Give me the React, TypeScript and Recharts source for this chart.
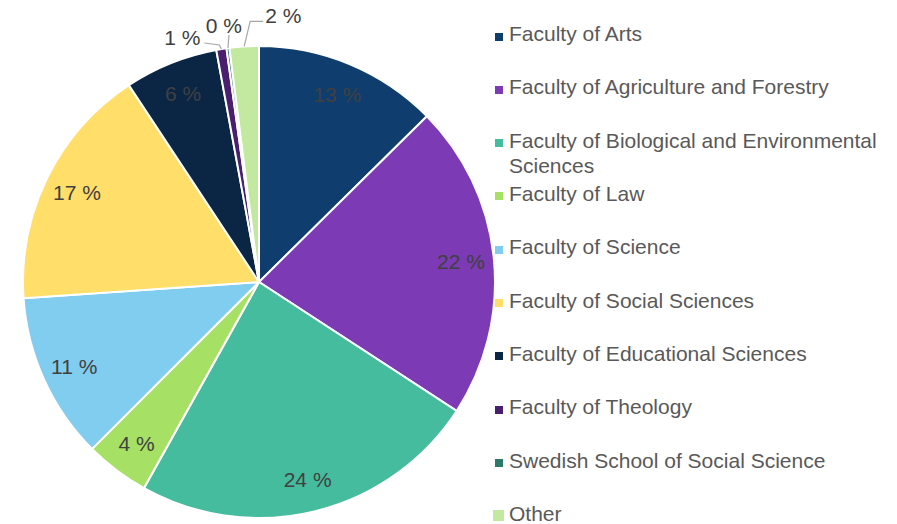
import React from 'react';
import { PieChart, Pie, Cell, Legend } from 'recharts';

const faculties = [
  'Faculty of Arts',
  'Faculty of Agriculture and Forestry',
  'Faculty of Biological and Environmental Sciences',
  'Faculty of Law',
  'Faculty of Science',
  'Faculty of Social Sciences',
  'Faculty of Educational Sciences',
  'Faculty of Theology',
  'Swedish School of Social Science',
  'Other'
];

const shares = [12.6, 21.6, 23.9, 4.4, 11.4, 16.8, 6.4, 0.7, 0.2, 2.0];

const colors = [
  '#0F3E6E',
  '#7C3AB4',
  '#46BC9E',
  '#A6E065',
  '#80CDEF',
  '#FFDE6A',
  '#0B2645',
  '#4B1F6F',
  '#2B7A67',
  '#C3E8A0'
];

const legendLines: string[][] = [
  ['Faculty of Arts'],
  ['Faculty of Agriculture and Forestry'],
  ['Faculty of Biological and Environmental', 'Sciences'],
  ['Faculty of Law'],
  ['Faculty of Science'],
  ['Faculty of Social Sciences'],
  ['Faculty of Educational Sciences'],
  ['Faculty of Theology'],
  ['Swedish School of Social Science'],
  ['Other']
];

const chartData = faculties.map((name, i) => ({ name, value: shares[i] }));

const FONT = '"Liberation Sans", Arial, sans-serif';
const RADIAN = Math.PI / 180;
const LABEL_R = 203;

// leader lines for the tiny slices: elbow / end offsets from the edge point, text pos
const outside: Record<number, any> = {
  7: { elbow: [-2, -4], end: [-17, -6], text: [-21, -4], anchor: 'end' },
  8: { elbow: [1, -13], end: [1, -13], text: [-4, -15], anchor: 'middle' },
  9: { elbow: [6, -25], end: [19, -25], text: [21, -23], anchor: 'start' }
};

function renderLabel(props: any) {
  const { cx, cy, midAngle, outerRadius, index, value } = props;
  const txt = `${Math.round(value)} %`;
  const cos = Math.cos(-midAngle * RADIAN);
  const sin = Math.sin(-midAngle * RADIAN);
  const o = outside[index];
  if (o) {
    const ex = cx + outerRadius * cos;
    const ey = cy + outerRadius * sin;
    return (
      <g key={`l-${index}`}>
        <polyline
          points={`${ex},${ey} ${ex + o.elbow[0]},${ey + o.elbow[1]} ${ex + o.end[0]},${ey + o.end[1]}`}
          fill="none"
          stroke="#A6A6A6"
          strokeWidth={1.2}
        />
        <text
          x={ex + o.text[0]}
          y={ey + o.text[1]}
          textAnchor={o.anchor}
          fill="#404040"
          fontSize={21}
          fontFamily={FONT}
        >
          {txt}
        </text>
      </g>
    );
  }
  const x = cx + LABEL_R * cos;
  const y = cy + LABEL_R * sin;
  return (
    <text
      key={`l-${index}`}
      x={x}
      y={y + 7.5}
      textAnchor="middle"
      fill="#404040"
      fontSize={21}
      fontFamily={FONT}
    >
      {txt}
    </text>
  );
}

function LegendBox() {
  return (
    <div style={{ fontFamily: FONT, fontSize: 21, color: '#595959' }}>
      {legendLines.map((lines, i) => {
        const last = i === legendLines.length - 1;
        const size = last ? 11 : 8;
        return (
          <div key={i} style={{ position: 'relative', height: 53.33 }}>
            <span
              style={{
                position: 'absolute',
                left: last ? 0 : 2,
                top: last ? 9.5 : 11.5,
                width: size,
                height: size,
                background: colors[i]
              }}
            />
            <div style={{ position: 'absolute', left: 16, top: 0, lineHeight: '25px', whiteSpace: 'nowrap' }}>
              {lines.map((l, j) => (
                <div key={j}>{l}</div>
              ))}
            </div>
          </div>
        );
      })}
    </div>
  );
}

export default function App() {
  return (
    <div style={{ position: 'absolute', left: 0, top: 0, width: 897, height: 524, background: '#fff' }}>
      <PieChart width={897} height={524} margin={{ top: 0, right: 0, bottom: 0, left: 0 }}>
        <Pie
          data={chartData}
          dataKey="value"
          nameKey="name"
          cx={259}
          cy={282}
          outerRadius={236}
          startAngle={90}
          endAngle={-270}
          stroke="#FFFFFF"
          strokeWidth={2}
          label={renderLabel}
          labelLine={false}
          isAnimationActive={false}
        >
          {chartData.map((d, i) => (
            <Cell key={d.name} fill={colors[i]} />
          ))}
        </Pie>
        <Legend
          content={() => <LegendBox />}
          wrapperStyle={{ position: 'absolute', left: 493, top: 21, width: 400 }}
        />
      </PieChart>
    </div>
  );
}
